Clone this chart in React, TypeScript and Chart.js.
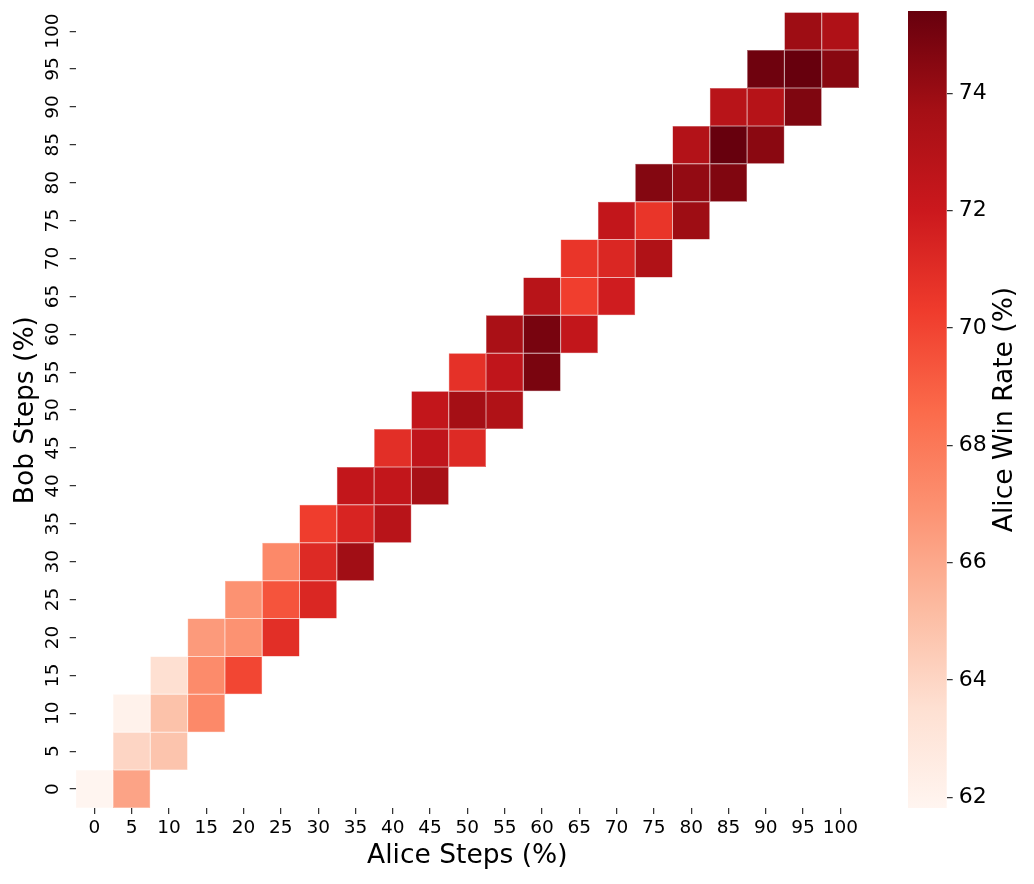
import React, { useEffect, useRef } from 'react';
import { Chart, registerables } from 'chart.js';

Chart.register(...registerables);

// ---- Data ----
const stepLabels = ['0', '5', '10', '15', '20', '25', '30', '35', '40', '45', '50', '55', '60', '65', '70', '75', '80', '85', '90', '95', '100'];
const stepValues = [0, 5, 10, 15, 20, 25, 30, 35, 40, 45, 50, 55, 60, 65, 70, 75, 80, 85, 90, 95, 100];

// Alice win rate (%) where Bob steps == Alice steps (Alice 0..100)
const rateBobEqual = [61.82, 64.0, 64.9, 67.2, 66.9, 69.4, 71.15, 71.4, 72.4, 72.5, 73.7, 72.5, 74.94, 70.2, 71.3, 70.6, 74.2, 75.4, 72.96, 75.4, 73.25];
// Alice win rate (%) where Bob steps == Alice steps - 5 (Alice 5..100)
const rateBobBelow = [66.2, 64.8, 67.3, 69.9, 70.9, 71.3, 73.8, 72.85, 73.57, 71.15, 73.2, 74.87, 72.4, 71.8, 73.2, 73.9, 74.72, 74.45, 74.75, 74.5];
// Alice win rate (%) where Bob steps == Alice steps + 5 (Alice 0..95), null = no cell
const rateBobAbove = [null, 62.1, 63.5, 66.6, 66.9, 67.3, 70.25, 72.4, 70.9, 72.4, 70.8, 73.5, 72.85, 70.6, 72.4, 74.6, 73.08, 72.85, 75.18, 73.9];

const colorbarTicks = [62, 64, 66, 68, 70, 72, 74];

// ---- Styling ----
const FONT = "'DejaVu Sans', sans-serif";
const REDS = ['#fff5f0', '#fee0d2', '#fcbba1', '#fc9272', '#fb6a4a', '#ef3b2c', '#cb181d', '#a50f15', '#67000d'];

const allRates = [...rateBobEqual, ...rateBobBelow, ...(rateBobAbove.filter((v) => v != null) as number[])];
const vmin = Math.min(...allRates);
const vmax = Math.max(...allRates);

function hexToRgb(h: string) {
  return [parseInt(h.slice(1, 3), 16), parseInt(h.slice(3, 5), 16), parseInt(h.slice(5, 7), 16)];
}
const REDS_RGB = REDS.map(hexToRgb);

function redsColor(v: number) {
  let t = (v - vmin) / (vmax - vmin);
  t = Math.max(0, Math.min(1, t));
  const pos = t * (REDS_RGB.length - 1);
  const i = Math.min(Math.floor(pos), REDS_RGB.length - 2);
  const f = pos - i;
  const a = REDS_RGB[i];
  const b = REDS_RGB[i + 1];
  return [0, 1, 2].map((k) => a[k] + (b[k] - a[k]) * f);
}
function fillOf(v: number | null) {
  if (v == null) return 'rgba(0,0,0,0)';
  const c = redsColor(v);
  return `rgb(${c[0].toFixed(0)},${c[1].toFixed(0)},${c[2].toFixed(0)})`;
}
function edgeOf(v: number | null) {
  if (v == null) return 'rgba(0,0,0,0)';
  const c = redsColor(v).map((x) => x + (255 - x) * 0.22);
  return `rgb(${c[0].toFixed(0)},${c[1].toFixed(0)},${c[2].toFixed(0)})`;
}

const halfBin = (stepValues[1] - stepValues[0]) / 2;
const cellSpan = (bob: number) => [bob - halfBin, bob + halfBin];

const equalData = stepValues.map((a) => cellSpan(a));
const equalRates = rateBobEqual;
const belowData = stepValues.map((a, i) => (i === 0 ? null : cellSpan(stepValues[i - 1])));
const belowRates = [null, ...rateBobBelow];
const aboveRates = [...rateBobAbove, null];
const aboveData = stepValues.map((a, i) => (aboveRates[i] == null ? null : cellSpan(stepValues[i + 1])));

function ds(data: any[], rates: (number | null)[]) {
  return {
    data,
    backgroundColor: rates.map(fillOf),
    borderColor: rates.map(edgeOf),
    borderWidth: 0.5,
    borderSkipped: false,
    grouped: false,
    barPercentage: 1,
    categoryPercentage: 1,
    inflateAmount: 0,
  };
}

const colorbarPlugin = {
  id: 'colorbarFill',
  beforeDatasetsDraw(chart: any) {
    const { ctx, chartArea, scales } = chart;
    const y = scales.y;
    const g = ctx.createLinearGradient(0, y.getPixelForValue(vmin), 0, y.getPixelForValue(vmax));
    REDS.forEach((c, i) => g.addColorStop(i / (REDS.length - 1), c));
    ctx.save();
    ctx.fillStyle = g;
    ctx.fillRect(chartArea.left, chartArea.top, chartArea.right - chartArea.left, chartArea.bottom - chartArea.top);
    ctx.restore();
  },
  afterDraw(chart: any) {
    const { ctx, chartArea } = chart;
    ctx.save();
    ctx.translate(115, (chartArea.top + chartArea.bottom) / 2);
    ctx.rotate(-Math.PI / 2);
    ctx.font = `26.5px ${FONT}`;
    ctx.fillStyle = '#000';
    ctx.textAlign = 'center';
    ctx.textBaseline = 'middle';
    ctx.fillText('Alice Win Rate (%)', 0, 0);
    ctx.restore();
  },
};

export default function App() {
  const mainRef = useRef<HTMLCanvasElement>(null);
  const cbRef = useRef<HTMLCanvasElement>(null);

  useEffect(() => {
    const tickGrid = { drawOnChartArea: false, drawTicks: true, tickLength: 6, color: '#333', lineWidth: 1.25 };
    const main = new Chart(mainRef.current!, {
      type: 'bar',
      data: {
        labels: stepLabels,
        datasets: [ds(equalData, equalRates), ds(belowData, belowRates), ds(aboveData, aboveRates)] as any,
      },
      options: {
        animation: false,
        responsive: false,
        events: [],
        layout: { padding: { left: 0, right: 31, top: 12.2, bottom: 0 } },
        plugins: { legend: { display: false }, tooltip: { enabled: false } },
        scales: {
          x: {
            type: 'category',
            offset: true,
            afterFit: (axis: any) => { axis.height = 76; axis.paddingLeft = 0; axis.paddingRight = 0; },
            ticks: { autoSkip: false, minRotation: 0, maxRotation: 0, padding: 3, color: '#000', font: { family: FONT, size: 18.5 } },
            grid: { ...tickGrid, offset: false },
            border: { display: false },
            title: { display: true, text: 'Alice Steps (%)', color: '#000', font: { family: FONT, size: 26.5 }, padding: { top: 0, bottom: 12 } },
          },
          y: {
            type: 'linear',
            min: stepValues[0] - halfBin,
            max: stepValues[stepValues.length - 1] + halfBin,
            afterBuildTicks: (axis: any) => { axis.ticks = stepValues.map((v) => ({ value: v })); },
            afterFit: (axis: any) => { axis.width = 75.7; axis.paddingTop = 0; axis.paddingBottom = 0; },
            ticks: { autoSkip: false, minRotation: 90, maxRotation: 90, crossAlign: 'center', padding: -1, color: '#000', font: { family: FONT, size: 18.5 }, callback: (v: any) => String(v) },
            grid: tickGrid,
            border: { display: false },
            title: { display: true, text: 'Bob Steps (%)', color: '#000', font: { family: FONT, size: 26.5 }, padding: { top: 10, bottom: 0 } },
          },
        },
      } as any,
    });

    const cb = new Chart(cbRef.current!, {
      type: 'bar',
      data: { labels: [''], datasets: [] },
      options: {
        animation: false,
        responsive: false,
        events: [],
        layout: { padding: { left: 18, right: 0, top: 11, bottom: 76 } },
        plugins: { legend: { display: false }, tooltip: { enabled: false } },
        scales: {
          x: { display: false },
          y: {
            type: 'linear',
            position: 'right',
            min: vmin,
            max: vmax,
            afterBuildTicks: (axis: any) => { axis.ticks = colorbarTicks.map((v) => ({ value: v })); },
            afterFit: (axis: any) => { axis.width = 87.3; axis.paddingTop = 0; axis.paddingBottom = 0; },
            ticks: { padding: 6, color: '#000', font: { family: FONT, size: 22 } },
            grid: tickGrid,
            border: { display: false },
          },
        },
      } as any,
      plugins: [colorbarPlugin],
    });

    return () => {
      main.destroy();
      cb.destroy();
    };
  }, []);

  return (
    <div style={{ position: 'fixed', left: 0, top: 0, width: 1034, height: 884, background: '#fff' }}>
      <canvas ref={mainRef} width={890} height={884} style={{ position: 'absolute', left: 0, top: 0, width: 890, height: 884 }} />
      <canvas ref={cbRef} width={144} height={884} style={{ position: 'absolute', left: 890, top: 0, width: 144, height: 884 }} />
    </div>
  );
}
